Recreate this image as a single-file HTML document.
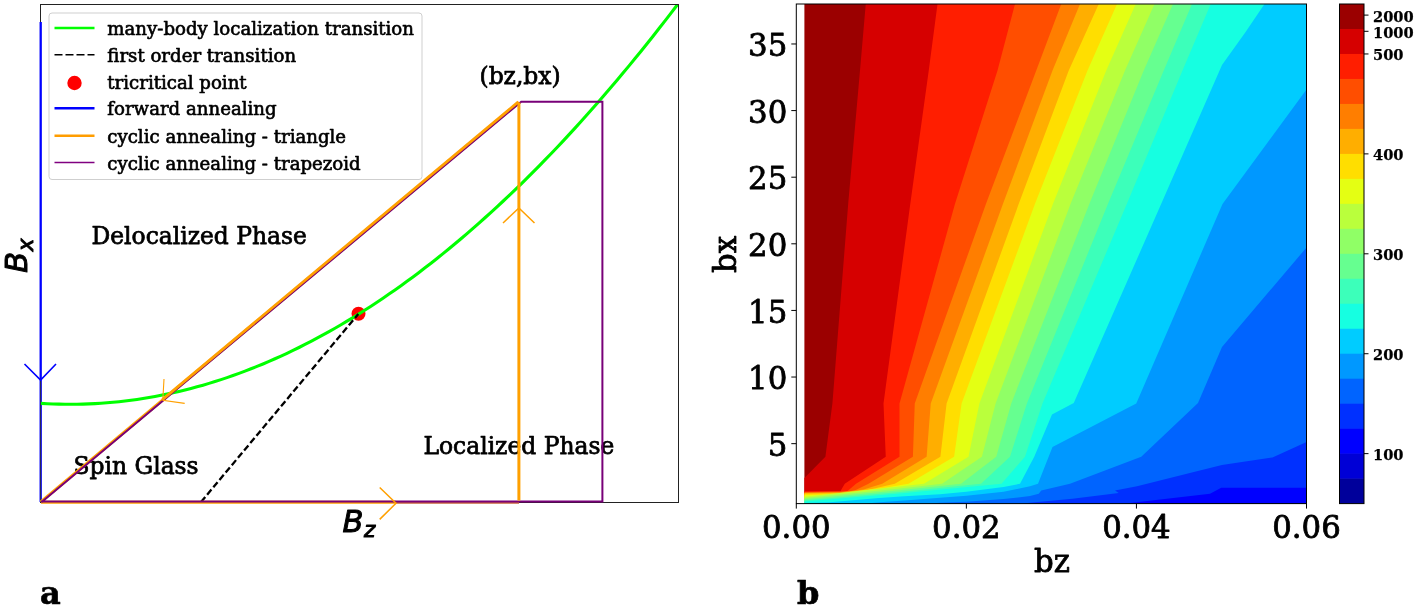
<!DOCTYPE html>
<html lang="en">
<head>
<meta charset="utf-8">
<title>Phase diagram and contour plot</title>
<style>
html,body{margin:0;padding:0;background:#fff;}
body{width:1416px;height:609px;overflow:hidden;}
svg{display:block;}
text{font-family:"DejaVu Serif","Liberation Serif",serif;fill:#000;stroke:#000;stroke-width:0.65px;stroke-linejoin:round;}
.lg{font-size:18.15px;}
.ph{font-size:23.4px;stroke-width:0.75px;}
.tk{font-size:30.8px;stroke-width:0.8px;}
.cb{font-size:14.6px;font-weight:bold;stroke-width:0.25px;}
.pl{font-size:32px;font-weight:bold;}
.mi{font-family:"DejaVu Sans","Liberation Sans",sans-serif;font-style:italic;stroke-width:1px;}
</style>
</head>
<body>
<svg width="1416" height="609" viewBox="0 0 1416 609">
<rect x="0" y="0" width="1416" height="609" fill="#ffffff"/>

<!-- ================= panel a ================= -->
<g id="panel-a">
<rect x="40.5" y="4.5" width="638" height="498" fill="#fff" stroke="#222" stroke-width="1"/>
<!-- annotations -->
<text x="91.5" y="243.8" class="ph">Delocalized Phase</text>
<text x="73.5" y="474" class="ph">Spin Glass</text>
<text x="423.5" y="453.8" class="ph">Localized Phase</text>
<text x="479.5" y="84" class="ph">(bz,bx)</text>
<!-- forward annealing (blue) -->
<line x1="40.7" y1="22" x2="40.7" y2="502" stroke="#0000ff" stroke-width="2.3"/>
<line x1="40.6" y1="381" x2="40.6" y2="502" stroke="#333" stroke-width="0.9"/>
<polyline points="24.5,364 40.6,380 56,364" fill="none" stroke="#0000ff" stroke-width="1.6"/>
<!-- tricritical point -->
<circle cx="358.5" cy="313.8" r="7" fill="#ff0000"/>
<!-- green MBL curve -->
<defs><clipPath id="axa"><rect x="40.5" y="4.5" width="638" height="498"/></clipPath></defs>
<polyline points="41.0,403.39 47.0,403.73 53.0,403.99 59.0,404.17 65.0,404.27 71.0,404.30 77.0,404.25 83.0,404.12 89.0,403.91 95.0,403.62 101.0,403.26 107.0,402.82 113.0,402.30 119.0,401.70 125.0,401.02 131.0,400.27 137.0,399.44 143.0,398.53 149.0,397.54 155.0,396.48 161.0,395.33 167.0,394.11 173.0,392.81 179.0,391.43 185.0,389.98 191.0,388.44 197.0,386.83 203.0,385.14 209.0,383.38 215.0,381.53 221.0,379.61 227.0,377.61 233.0,375.53 239.0,373.37 245.0,371.13 251.0,368.82 257.0,366.43 263.0,363.96 269.0,361.41 275.0,358.79 281.0,356.08 287.0,353.30 293.0,350.44 299.0,347.51 305.0,344.49 311.0,341.40 317.0,338.23 323.0,334.98 329.0,331.65 335.0,328.25 341.0,324.76 347.0,321.20 353.0,317.56 359.0,313.85 365.0,310.05 371.0,306.18 377.0,302.23 383.0,298.20 389.0,294.09 395.0,289.91 401.0,285.65 407.0,281.30 413.0,276.89 419.0,272.39 425.0,267.81 431.0,263.16 437.0,258.43 443.0,253.62 449.0,248.74 455.0,243.77 461.0,238.73 467.0,233.61 473.0,228.41 479.0,223.13 485.0,217.78 491.0,212.35 497.0,206.84 503.0,201.25 509.0,195.58 515.0,189.84 521.0,184.02 527.0,178.12 533.0,172.14 539.0,166.08 545.0,159.95 551.0,153.74 557.0,147.45 563.0,141.08 569.0,134.63 575.0,128.11 581.0,121.51 587.0,114.83 593.0,108.07 599.0,101.23 605.0,94.32 611.0,87.33 617.0,80.26 623.0,73.11 629.0,65.88 635.0,58.58 641.0,51.20 647.0,43.74 653.0,36.20 659.0,28.58 665.0,20.89 671.0,13.12 677.0,5.27 678.5,3.30" fill="none" stroke="#00ff00" stroke-width="3.1" stroke-linejoin="round" clip-path="url(#axa)"/>
<!-- first order transition -->
<line x1="201" y1="502" x2="358.3" y2="314" stroke="#000" stroke-width="2.3" stroke-dasharray="6.6,3"/>
<!-- triangle (orange) base -->
<line x1="41" y1="502.3" x2="396" y2="502.3" stroke="#ffa000" stroke-width="3"/>
<line x1="396" y1="502.6" x2="519" y2="502.6" stroke="#c8643c" stroke-width="2.4"/>
<line x1="40.8" y1="501.9" x2="519" y2="102.3" stroke="#ffa000" stroke-width="3"/>
<!-- trapezoid (purple) -->
<polyline points="41.4,502.2 521.2,101.7 602.4,101.7 602.4,501.5 41,501.5" fill="none" stroke="#780078" stroke-width="2" stroke-linejoin="miter"/>
<!-- orange arrowed segments on top -->
<line x1="518.3" y1="101.9" x2="162.4" y2="399.6" stroke="#ffa000" stroke-width="2.8"/>
<line x1="518.9" y1="102.5" x2="518.9" y2="500.6" stroke="#ffa000" stroke-width="3"/>
<polyline points="503,223 518.9,208 534.5,223" fill="none" stroke="#ffa000" stroke-width="1.5"/>
<polyline points="164,379 162.8,400.2 184.7,403.4" fill="none" stroke="#ffa000" stroke-width="1.1"/>
<polyline points="379.7,487.5 396,503.2 379.7,519.4" fill="none" stroke="#ffa000" stroke-width="1.5"/>
<polyline points="40.5,4.5 678.5,4.5 678.5,502.5" fill="none" stroke="#222" stroke-width="1"/>
<!-- legend -->
<rect x="49" y="13" width="373" height="166.5" rx="3" ry="3" fill="#fff" fill-opacity="0.85" stroke="#cfcfcf" stroke-width="1"/>
<line x1="54.5" y1="28" x2="94.5" y2="28" stroke="#00ff00" stroke-width="2.6"/>
<line x1="54.5" y1="54.7" x2="94.5" y2="54.7" stroke="#000" stroke-width="1.6" stroke-dasharray="8,3"/>
<circle cx="74.5" cy="83" r="7.2" fill="#ff0000"/>
<line x1="54.5" y1="108.2" x2="94.5" y2="108.2" stroke="#0000ff" stroke-width="2.6"/>
<line x1="54.5" y1="135.7" x2="94.5" y2="135.7" stroke="#ff9d00" stroke-width="2.6"/>
<line x1="54.5" y1="162.5" x2="94.5" y2="162.5" stroke="#800080" stroke-width="1.3"/>
<text x="107.3" y="34.9" class="lg">many-body localization transition</text>
<text x="107.3" y="61.7" class="lg">first order transition</text>
<text x="107.3" y="89.0" class="lg">tricritical point</text>
<text x="107.3" y="115.2" class="lg">forward annealing</text>
<text x="107.3" y="142.6" class="lg">cyclic annealing - triangle</text>
<text x="107.3" y="169.8" class="lg">cyclic annealing - trapezoid</text>
<text transform="translate(27.2,272.8) rotate(-90)" class="mi" font-size="30.5">B<tspan font-size="21.5" dx="0.5" dy="5.6">x</tspan></text>
<text x="342.6" y="531.8" class="mi" font-size="30.5">B<tspan font-size="21.5" dx="0.5" dy="5.6">z</tspan></text>
<text x="40" y="603.7" class="pl">a</text>
</g>

<!-- ================= panel b ================= -->
<g id="panel-b">
<rect x="804.40" y="4.00" width="502.10" height="499.60" fill="#9b0000"/>
<polygon points="865.75,4.00 860.00,70.60 848.20,203.80 832.40,403.50 825.40,456.80 804.40,478.00 804.40,503.60 1306.50,503.60 1306.50,4.00" fill="#d60000"/>
<polygon points="937.50,4.00 928.75,70.60 910.30,203.80 883.50,403.50 885.75,456.80 844.75,483.75 840.40,491.25 804.40,491.20 804.40,503.60 1306.50,503.60 1306.50,4.00" fill="#ff1e00"/>
<polygon points="1015.00,4.00 997.50,70.60 955.00,203.80 899.50,403.50 899.50,456.80 856.00,483.75 847.25,491.25 804.40,491.90 804.40,503.60 1306.50,503.60 1306.50,4.00" fill="#ff4e00"/>
<polygon points="1061.25,4.00 1036.25,70.60 986.00,203.80 914.75,403.50 912.90,456.80 868.50,483.75 854.75,490.50 840.00,492.00 804.40,492.50 804.40,503.60 1306.50,503.60 1306.50,4.00" fill="#ff7e00"/>
<polygon points="1080.00,4.00 1052.50,70.60 1003.00,203.80 930.75,403.50 926.60,456.80 882.25,483.75 863.50,489.50 840.00,492.60 804.40,493.10 804.40,503.60 1306.50,503.60 1306.50,4.00" fill="#ffae00"/>
<polygon points="1098.75,4.00 1068.75,70.60 1018.75,203.80 946.60,403.50 940.40,456.80 894.75,483.75 872.00,489.00 840.00,493.20 804.40,493.80 804.40,503.60 1306.50,503.60 1306.50,4.00" fill="#ffde00"/>
<polygon points="1117.00,4.00 1087.50,70.60 1035.00,203.80 961.60,403.50 954.10,456.80 908.50,483.75 886.00,487.50 840.00,493.90 804.40,495.20 804.40,503.60 1306.50,503.60 1306.50,4.00" fill="#e4ff13"/>
<polygon points="1135.75,4.00 1106.25,70.60 1053.00,203.80 979.40,403.50 968.50,456.80 924.00,483.75 900.00,486.50 804.40,496.80 804.40,503.60 1306.50,503.60 1306.50,4.00" fill="#baff3c"/>
<polygon points="1154.50,4.00 1125.00,70.60 1070.60,203.80 995.60,403.50 981.90,456.80 942.00,483.75 900.00,488.60 804.40,498.10 804.40,503.60 1306.50,503.60 1306.50,4.00" fill="#90ff66"/>
<polygon points="1173.00,4.00 1143.75,70.60 1089.40,203.80 1011.25,403.50 996.25,456.80 961.00,483.75 900.00,490.25 804.40,499.30 804.40,503.60 1306.50,503.60 1306.50,4.00" fill="#66ff90"/>
<polygon points="1192.00,4.00 1163.75,70.60 1108.00,203.80 1026.90,403.50 1010.00,456.80 981.00,483.75 900.00,492.00 804.40,500.40 804.40,503.60 1306.50,503.60 1306.50,4.00" fill="#3cffba"/>
<polygon points="1210.75,4.00 1182.50,70.60 1126.90,203.80 1042.50,403.50 1025.00,456.80 1001.50,483.75 960.00,487.75 900.00,493.60 804.40,501.50 804.40,503.60 1306.50,503.60 1306.50,4.00" fill="#16ffe1"/>
<polygon points="1264.50,4.00 1245.60,32.00 1222.00,65.00 1161.25,203.80 1073.75,403.00 1052.00,414.50 1034.25,456.80 1020.00,483.75 1003.60,486.90 966.40,491.70 940.00,494.20 904.50,496.20 879.00,498.00 856.00,500.00 830.00,502.20 804.40,502.90 804.40,503.60 1306.50,503.60 1306.50,4.00" fill="#00ccff"/>
<polygon points="1306.50,89.50 1222.50,204.00 1136.25,403.50 1052.50,447.00 1038.00,483.75 1030.00,486.30 1003.60,491.70 966.40,495.80 940.00,497.70 904.50,500.60 880.00,502.30 866.00,503.60 1306.50,503.60" fill="#0098ff"/>
<polygon points="1306.50,247.50 1222.00,347.00 1198.00,403.00 1141.25,456.80 1070.00,483.75 1041.25,490.60 1038.75,493.75 1030.00,496.10 1003.60,499.00 966.40,501.80 940.00,502.80 930.00,503.60 1306.50,503.60" fill="#0064ff"/>
<polygon points="1306.50,441.90 1272.50,457.40 1221.90,465.00 1137.00,486.25 1115.00,490.60 1118.75,493.00 1072.50,498.75 1030.00,502.80 1022.00,503.60 1306.50,503.60" fill="#0030ff"/>
<polygon points="1306.50,487.75 1221.25,487.75 1210.00,493.75 1130.00,503.00 1120.00,503.60 1306.50,503.60" fill="#0000ff"/>
<rect x="796.30" y="4" width="510.20" height="499.60" fill="none" stroke="#000" stroke-width="1"/>
<line x1="791.30" y1="443.66" x2="796.30" y2="443.66" stroke="#000" stroke-width="1"/>
<text x="787.3" y="455.86" class="tk" text-anchor="end">5</text>
<line x1="791.30" y1="377.04" x2="796.30" y2="377.04" stroke="#000" stroke-width="1"/>
<text x="787.3" y="389.24" class="tk" text-anchor="end">10</text>
<line x1="791.30" y1="310.43" x2="796.30" y2="310.43" stroke="#000" stroke-width="1"/>
<text x="787.3" y="322.63" class="tk" text-anchor="end">15</text>
<line x1="791.30" y1="243.81" x2="796.30" y2="243.81" stroke="#000" stroke-width="1"/>
<text x="787.3" y="256.01" class="tk" text-anchor="end">20</text>
<line x1="791.30" y1="177.20" x2="796.30" y2="177.20" stroke="#000" stroke-width="1"/>
<text x="787.3" y="189.40" class="tk" text-anchor="end">25</text>
<line x1="791.30" y1="110.58" x2="796.30" y2="110.58" stroke="#000" stroke-width="1"/>
<text x="787.3" y="122.78" class="tk" text-anchor="end">30</text>
<line x1="791.30" y1="43.97" x2="796.30" y2="43.97" stroke="#000" stroke-width="1"/>
<text x="787.3" y="56.17" class="tk" text-anchor="end">35</text>
<line x1="796.30" y1="503.60" x2="796.30" y2="508.60" stroke="#000" stroke-width="1"/>
<text x="796.30" y="537.7" class="tk" text-anchor="middle">0.00</text>
<line x1="966.37" y1="503.60" x2="966.37" y2="508.60" stroke="#000" stroke-width="1"/>
<text x="966.37" y="537.7" class="tk" text-anchor="middle">0.02</text>
<line x1="1136.43" y1="503.60" x2="1136.43" y2="508.60" stroke="#000" stroke-width="1"/>
<text x="1136.43" y="537.7" class="tk" text-anchor="middle">0.04</text>
<line x1="1306.50" y1="503.60" x2="1306.50" y2="508.60" stroke="#000" stroke-width="1"/>
<text x="1306.50" y="537.7" class="tk" text-anchor="middle">0.06</text>
<text x="1052" y="572" class="tk" text-anchor="middle">bz</text>
<text transform="translate(735.6,254.4) rotate(-90)" class="tk" text-anchor="middle">bx</text>
<rect x="1339.50" y="4.00" width="24.50" height="25.28" fill="#9b0000"/>
<rect x="1339.50" y="28.98" width="24.50" height="25.28" fill="#d60000"/>
<rect x="1339.50" y="53.96" width="24.50" height="25.28" fill="#ff1e00"/>
<rect x="1339.50" y="78.94" width="24.50" height="25.28" fill="#ff4e00"/>
<rect x="1339.50" y="103.92" width="24.50" height="25.28" fill="#ff7e00"/>
<rect x="1339.50" y="128.90" width="24.50" height="25.28" fill="#ffae00"/>
<rect x="1339.50" y="153.88" width="24.50" height="25.28" fill="#ffde00"/>
<rect x="1339.50" y="178.86" width="24.50" height="25.28" fill="#e4ff13"/>
<rect x="1339.50" y="203.84" width="24.50" height="25.28" fill="#baff3c"/>
<rect x="1339.50" y="228.82" width="24.50" height="25.28" fill="#90ff66"/>
<rect x="1339.50" y="253.80" width="24.50" height="25.28" fill="#66ff90"/>
<rect x="1339.50" y="278.78" width="24.50" height="25.28" fill="#3cffba"/>
<rect x="1339.50" y="303.76" width="24.50" height="25.28" fill="#16ffe1"/>
<rect x="1339.50" y="328.74" width="24.50" height="25.28" fill="#00ccff"/>
<rect x="1339.50" y="353.72" width="24.50" height="25.28" fill="#0098ff"/>
<rect x="1339.50" y="378.70" width="24.50" height="25.28" fill="#0064ff"/>
<rect x="1339.50" y="403.68" width="24.50" height="25.28" fill="#0030ff"/>
<rect x="1339.50" y="428.66" width="24.50" height="25.28" fill="#0000ff"/>
<rect x="1339.50" y="453.64" width="24.50" height="25.28" fill="#0000d6"/>
<rect x="1339.50" y="478.62" width="24.50" height="24.98" fill="#00009b"/>
<rect x="1339.50" y="4.00" width="24.50" height="499.60" fill="none" stroke="#000" stroke-width="1"/>
<line x1="1364.00" y1="15.10" x2="1368.50" y2="15.10" stroke="#000" stroke-width="1"/>
<text x="1373" y="22.40" class="cb">2000</text>
<line x1="1364.00" y1="31.30" x2="1368.50" y2="31.30" stroke="#000" stroke-width="1"/>
<text x="1373" y="37.80" class="cb">1000</text>
<line x1="1364.00" y1="53.96" x2="1368.50" y2="53.96" stroke="#000" stroke-width="1"/>
<text x="1373" y="60.26" class="cb">500</text>
<line x1="1364.00" y1="153.88" x2="1368.50" y2="153.88" stroke="#000" stroke-width="1"/>
<text x="1373" y="160.18" class="cb">400</text>
<line x1="1364.00" y1="253.80" x2="1368.50" y2="253.80" stroke="#000" stroke-width="1"/>
<text x="1373" y="260.10" class="cb">300</text>
<line x1="1364.00" y1="353.72" x2="1368.50" y2="353.72" stroke="#000" stroke-width="1"/>
<text x="1373" y="360.02" class="cb">200</text>
<line x1="1364.00" y1="453.64" x2="1368.50" y2="453.64" stroke="#000" stroke-width="1"/>
<text x="1373" y="459.94" class="cb">100</text>
<text x="797" y="604" class="pl">b</text>
</g>
</svg>
</body>
</html>
